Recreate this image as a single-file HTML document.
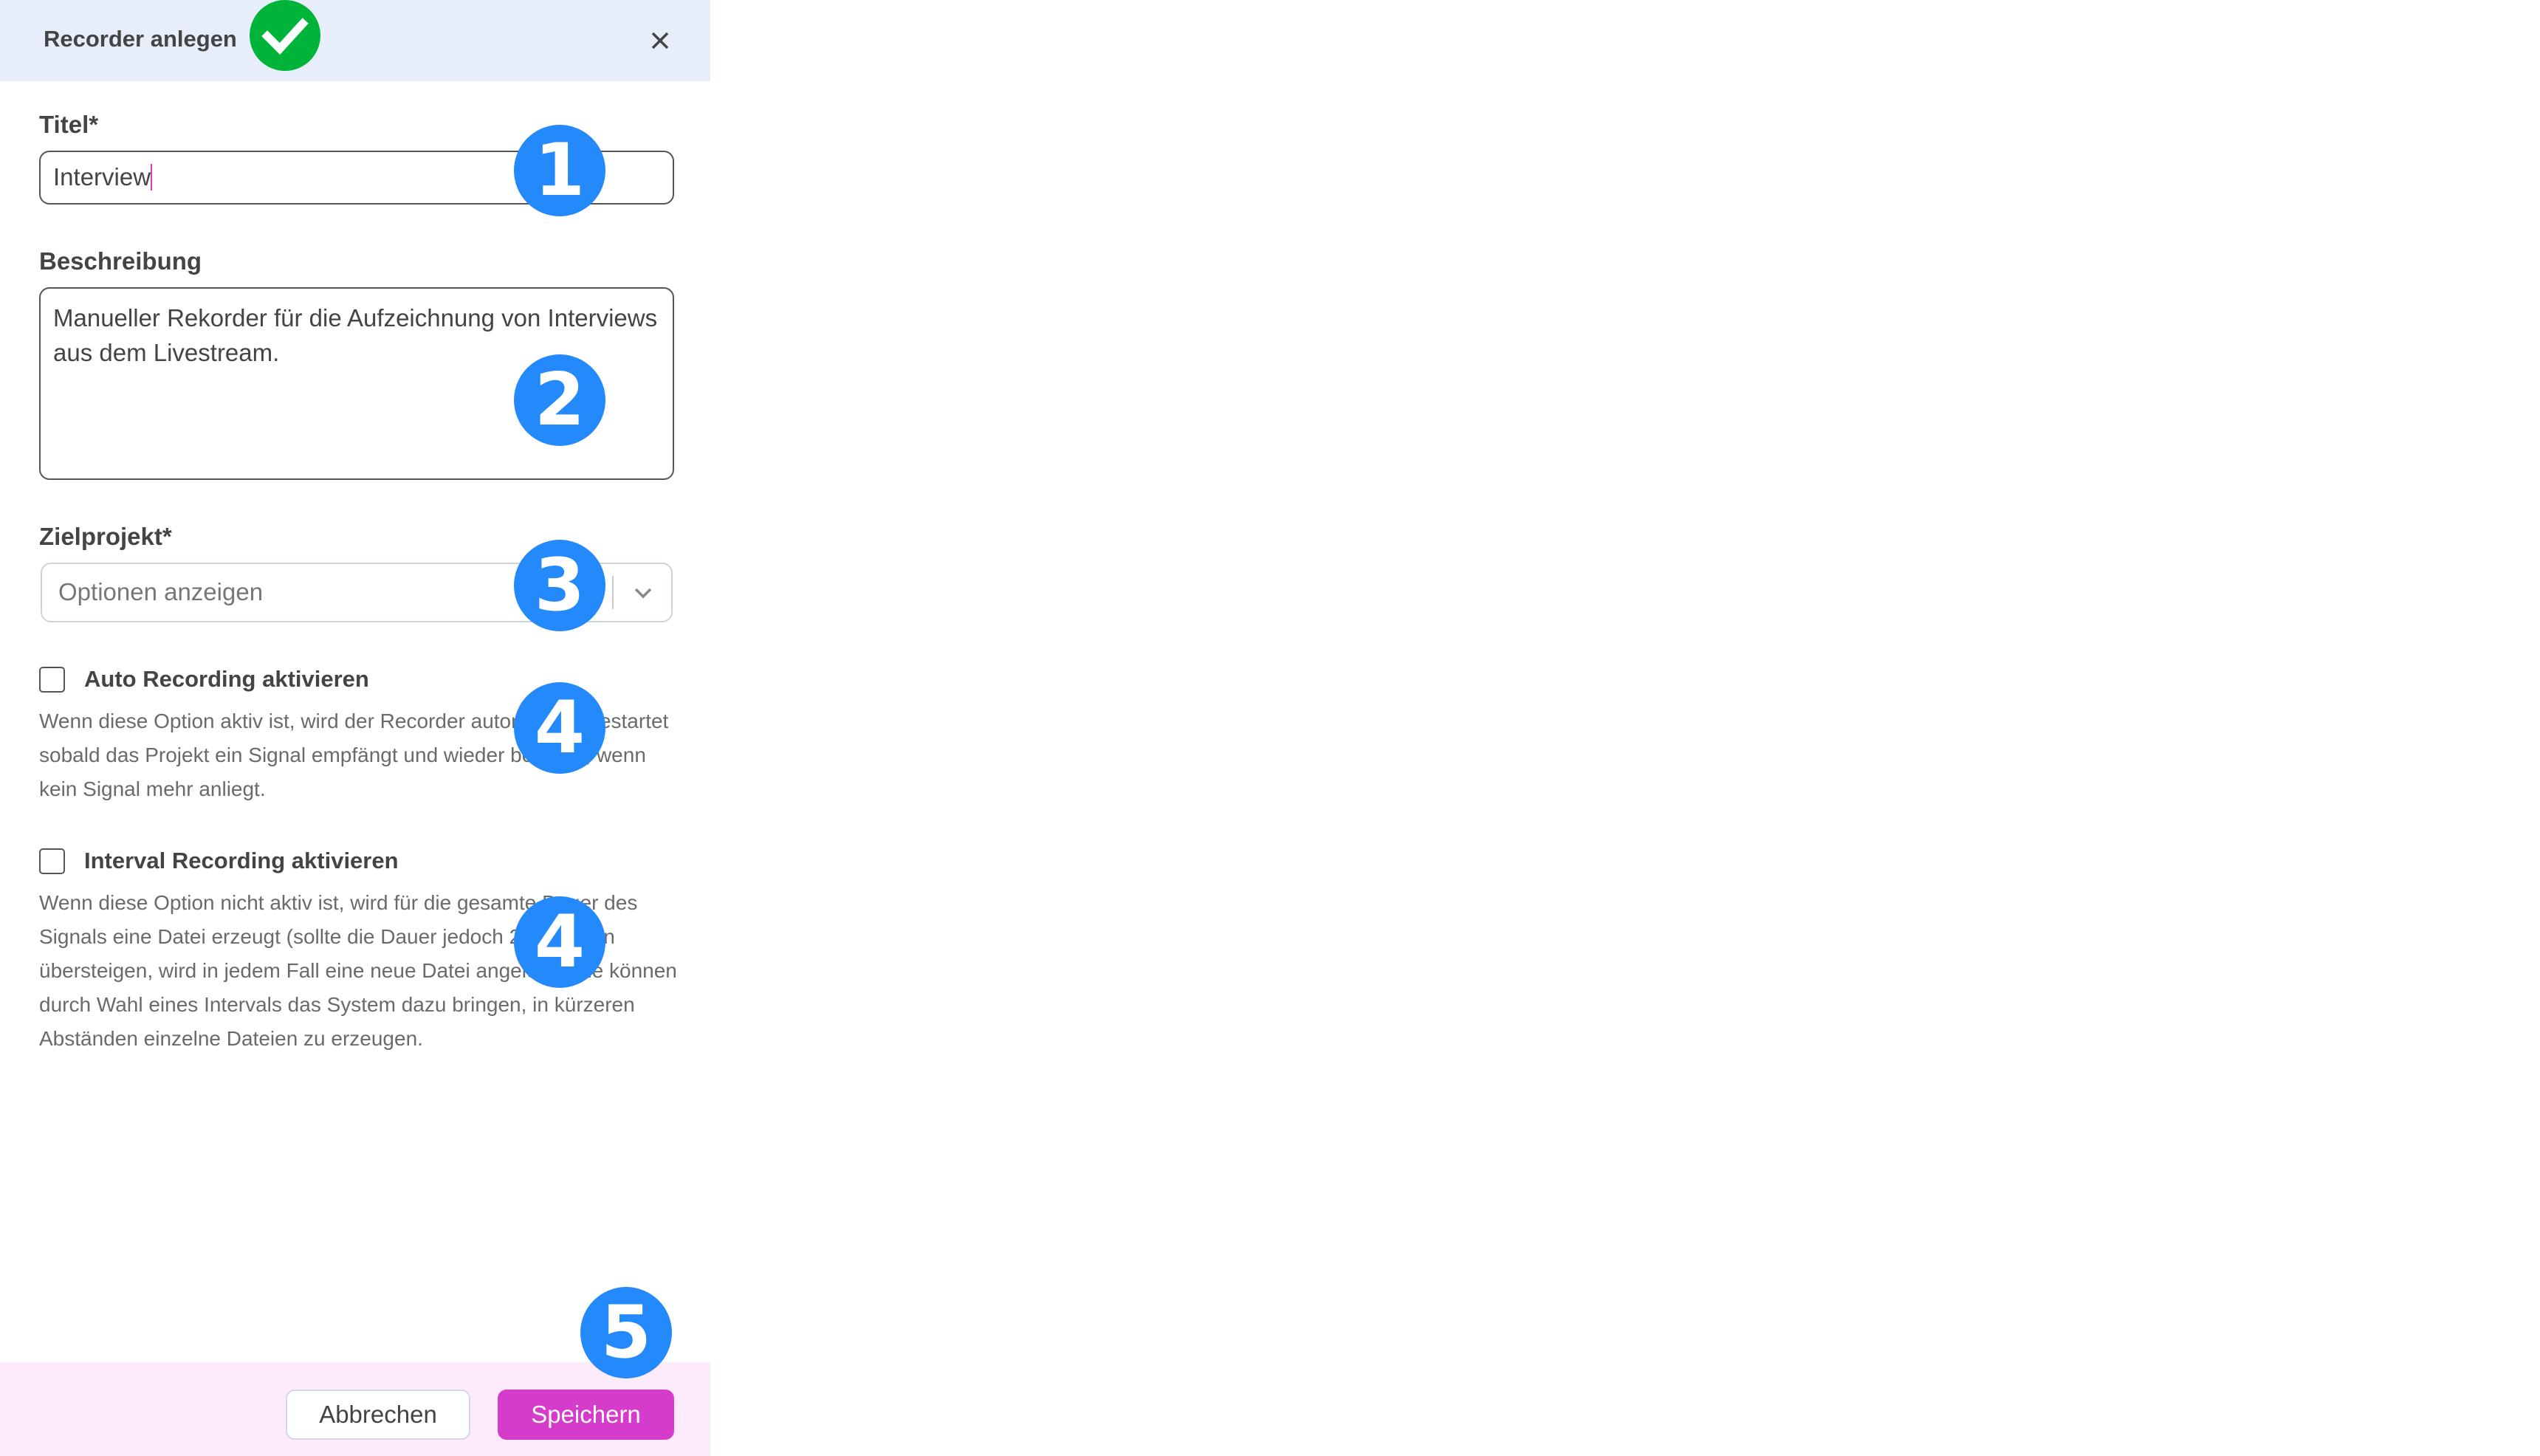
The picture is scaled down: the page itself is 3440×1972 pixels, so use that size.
<!DOCTYPE html>
<html><head><meta charset="utf-8"><style>
*{margin:0;padding:0;box-sizing:border-box}
body{width:3440px;height:1972px;background:#fff;position:relative;overflow:hidden;font-family:"Liberation Sans",sans-serif;color:#444}
.a{position:absolute;white-space:nowrap}
.badge{position:absolute;width:124px;height:124px;border-radius:50%;background:#2489fb;color:#fff;font-weight:bold;font-size:98px;line-height:124px;text-align:center;font-family:"DejaVu Sans","Liberation Sans",sans-serif}
.lbl{font-weight:bold;font-size:33px;color:#444;line-height:40px}
.desc{font-size:28px;color:#6a6a6a;line-height:46px}
</style></head><body>
<div class="a" style="left:0;top:0;width:962px;height:110px;background:#e8eef9"></div>
<div class="a" style="left:59px;top:35px;font-size:31px;line-height:36px;font-weight:bold;color:#444">Recorder anlegen</div>
<svg class="a" style="left:338px;top:0px" width="96" height="96"><circle cx="48" cy="48" r="48" fill="#00b43a"/><path d="M24 49 L41 66 L72 32" stroke="#fff" stroke-width="11" fill="none" stroke-linecap="square"/></svg>
<svg class="a" style="left:881px;top:42px" width="26" height="26"><path d="M3 3L23 23M23 3L3 23" stroke="#444" stroke-width="3.5"/></svg>

<div class="a lbl" style="left:53px;top:149px">Titel*</div>
<div class="a" style="left:53px;top:204px;width:860px;height:73px;border:2.5px solid #555;border-radius:14px"></div>
<div class="a" style="left:72px;top:220px;font-size:33px;line-height:40px;color:#444">Interview<span style="display:inline-block;width:2px;height:36px;background:#d63ccb;vertical-align:-7px"></span></div>

<div class="a lbl" style="left:53px;top:334px">Beschreibung</div>
<div class="a" style="left:53px;top:389px;width:860px;height:261px;border:2.5px solid #555;border-radius:14px"></div>
<div class="a" style="left:72px;top:407px;font-size:33px;line-height:47px;color:#444">Manueller Rekorder für die Aufzeichnung von Interviews<br>aus dem Livestream.</div>

<div class="a lbl" style="left:53px;top:707px">Zielprojekt*</div>
<div class="a" style="left:55px;top:762px;width:856px;height:81px;border:2px solid #cdd4e0;border-radius:14px"></div>
<div class="a" style="left:79px;top:782px;font-size:33px;line-height:40px;color:#777">Optionen anzeigen</div>
<div class="a" style="left:829px;top:780px;width:2px;height:45px;background:#ccc"></div>
<svg class="a" style="left:858px;top:795px" width="26" height="16"><path d="M3 3L13 13L23 3" stroke="#888" stroke-width="3.5" fill="none"/></svg>

<div class="a" style="left:53px;top:903px;width:35px;height:35px;border:2.5px solid #555;border-radius:5px"></div>
<div class="a lbl" style="left:114px;top:900px;font-size:31px">Auto Recording aktivieren</div>
<div class="a desc" style="left:53px;top:954px">Wenn diese Option aktiv ist, wird der Recorder automatisch gestartet<br>sobald das Projekt ein Signal empfängt und wieder beendet, wenn<br>kein Signal mehr anliegt.</div>

<div class="a" style="left:53px;top:1149px;width:35px;height:35px;border:2.5px solid #555;border-radius:5px"></div>
<div class="a lbl" style="left:114px;top:1146px;font-size:31px">Interval Recording aktivieren</div>
<div class="a desc" style="left:53px;top:1200px">Wenn diese Option nicht aktiv ist, wird für die gesamte Dauer des<br>Signals eine Datei erzeugt (sollte die Dauer jedoch 24 Stunden<br>übersteigen, wird in jedem Fall eine neue Datei angelegt). Sie können<br>durch Wahl eines Intervals das System dazu bringen, in kürzeren<br>Abständen einzelne Dateien zu erzeugen.</div>

<div class="a" style="left:0;top:1845px;width:962px;height:127px;background:#fdebfb"></div>
<div class="a" style="left:387px;top:1882px;width:250px;height:68px;background:#fff;border:2px solid #cfd6e4;border-radius:12px;font-size:33px;line-height:64px;text-align:center;color:#444">Abbrechen</div>
<div class="a" style="left:674px;top:1882px;width:239px;height:68px;background:#d63ccb;border-radius:12px;font-size:33px;line-height:68px;text-align:center;color:#fff">Speichern</div>

<div class="badge" style="left:696px;top:169px">1</div>
<div class="badge" style="left:696px;top:480px">2</div>
<div class="badge" style="left:696px;top:731px">3</div>
<div class="badge" style="left:696px;top:924px">4</div>
<div class="badge" style="left:696px;top:1214px">4</div>
<div class="badge" style="left:786px;top:1743px">5</div>
</body></html>
